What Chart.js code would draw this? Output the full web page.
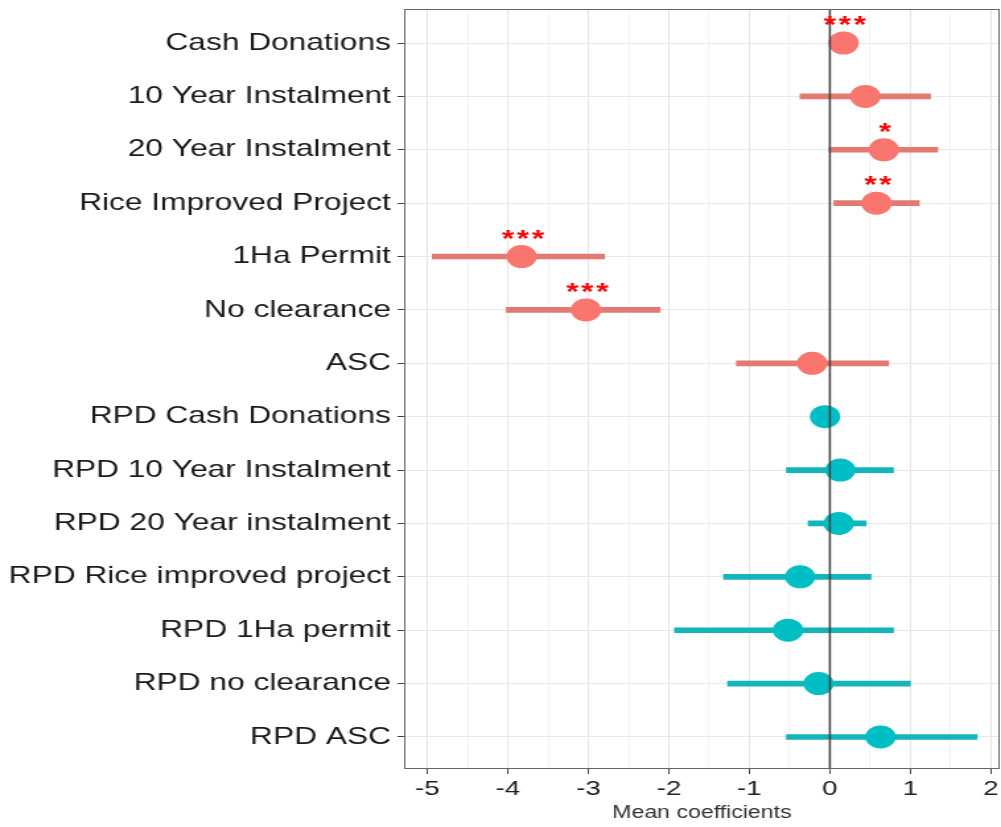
<!DOCTYPE html>
<html>
<head>
<meta charset="utf-8">
<title>Mean coefficients</title>
<script src="https://cdn.jsdelivr.net/npm/chart.js@4.4.1/dist/chart.umd.min.js"></script>
<style>
    html, body { margin: 0; padding: 0; background: #ffffff; overflow: hidden; }
    /* the original figure is stretched sideways, so the canvas is too */
    #myChart { transform: scaleX(1.3206); transform-origin: 0 0; }
</style>
</head>
<body>
<canvas id="myChart" width="758" height="827"></canvas>
<script>
// Attribute names (top to bottom)
const labelsArray = [
    'Cash Donations', '10 Year Instalment', '20 Year Instalment', 'Rice Improved Project',
    '1Ha Permit', 'No clearance', 'ASC',
    'RPD Cash Donations', 'RPD 10 Year Instalment', 'RPD 20 Year instalment',
    'RPD Rice improved project', 'RPD 1Ha permit', 'RPD no clearance', 'RPD ASC'
];

// Mean coefficients and their intervals
const meanArray = [0.17, 0.44, 0.67, 0.58, -3.83, -3.03, -0.22, -0.06, 0.13, 0.11, -0.37, -0.52, -0.14, 0.63];
const lowerArray = [0.17, -0.37, -0.01, 0.05, -4.94, -4.02, -1.16, -0.06, -0.54, -0.27, -1.32, -1.93, -1.27, -0.54];
const upperArray = [0.17, 1.25, 1.34, 1.11, -2.80, -2.11, 0.73, -0.06, 0.79, 0.45, 0.51, 0.79, 1.00, 1.83];

// Significance stars
const starsArray = ['***', '', '*', '**', '***', '***', '', '', '', '', '', '', '', ''];

// Which group each row belongs to
const groupArray = ['main', 'main', 'main', 'main', 'main', 'main', 'main',
    'rpd', 'rpd', 'rpd', 'rpd', 'rpd', 'rpd', 'rpd'];

// x axis tick labels
const xTicksArray = [-5, -4, -3, -2, -1, 0, 1, 2];

const pointColors = { main: '#F8766D', rpd: '#00BFC4' };
const barColors = { main: '#E27A72', rpd: '#13B5BB' };

//Building the datasets from the arrays above
const barData = labelsArray.map((name, i) => ({ x: [lowerArray[i], upperArray[i]], y: i + 1 }));
const pointData = labelsArray.map((name, i) => ({ x: meanArray[i], y: i + 1 }));

// half steps give the minor grid lines
const xGridValues = [];
for (let v = -5; v <= 2; v += 0.5) {
    xGridValues.push(v);
}

//This plugin draws the panel border, the zero line and the stars
const extrasPlugin = {
    id: 'extras',
    afterDatasetsDraw(chart) {
        const ctx = chart.ctx;
        const area = chart.chartArea;
        const xScale = chart.scales.x;
        const yScale = chart.scales.y;

        // vertical line at zero, drawn over the points
        const zeroX = xScale.getPixelForValue(0);
        ctx.save();
        ctx.strokeStyle = '#444444';
        ctx.lineWidth = 1.6;
        ctx.beginPath();
        ctx.moveTo(zeroX, area.top);
        ctx.lineTo(zeroX, area.bottom);
        ctx.stroke();

        // panel border
        ctx.strokeStyle = '#666666';
        ctx.lineWidth = 1;
        ctx.strokeRect(area.left + 0.5, area.top + 0.5, area.right - area.left - 1, area.bottom - area.top - 1);

        // stars above the points
        ctx.fillStyle = '#ff0000';
        ctx.font = 'bold 24px "Liberation Sans", Arial, sans-serif';
        ctx.letterSpacing = '2px';
        ctx.textAlign = 'center';
        ctx.textBaseline = 'alphabetic';
        starsArray.forEach((s, i) => {
            if (s === '') return;
            const px = xScale.getPixelForValue(meanArray[i]);
            const py = yScale.getPixelForValue(i + 1);
            ctx.fillText(s, px + 2, py - 10);
        });
        ctx.restore();
    }
};

function renderChart() {

    const ctx = document.getElementById('myChart');

    new Chart(ctx, {
        data: {
            datasets: [{
                // the mean points
                type: 'scatter',
                data: pointData,
                pointRadius: 11.5,
                pointHoverRadius: 11.5,
                pointBorderWidth: 0,
                backgroundColor: groupArray.map(g => pointColors[g]),
                order: 1
            }, {
                // the interval lines
                type: 'bar',
                data: barData,
                barThickness: 5,
                backgroundColor: groupArray.map(g => barColors[g]),
                borderWidth: 0,
                borderSkipped: false,
                order: 2
            }]
        },
        options: {
            indexAxis: 'y',
            responsive: false,
            animation: false,
            events: [],
            layout: {
                // no extra room for the big points, the panel goes to the edge
                autoPadding: false,
                padding: { top: 9, right: 1, left: 0, bottom: 0 }
            },
            plugins: {
                legend: { display: false },
                tooltip: { enabled: false }
            },
            scales: {
                x: {
                    type: 'linear',
                    min: -5.29,
                    max: 2.11,
                    afterBuildTicks: axis => {
                        axis.ticks = xGridValues.map(v => ({ value: v }));
                    },
                    afterFit: axis => {
                        axis.height = 58;
                        axis.paddingLeft = 0;
                        axis.paddingRight = 0;
                    },
                    grid: {
                        color: c => (c.tick && Number.isInteger(c.tick.value)) ? '#e4e4e4' : '#f3f3f3',
                        tickColor: c => (c.tick && Number.isInteger(c.tick.value)) ? '#444444' : 'rgba(0,0,0,0)',
                        tickLength: 5,
                        lineWidth: 1
                    },
                    border: { display: false },
                    ticks: {
                        autoSkip: false,
                        maxRotation: 0,
                        padding: 3,
                        color: '#222222',
                        font: { family: '"Liberation Sans", Arial, sans-serif', size: 21 },
                        callback: value => xTicksArray.includes(value) ? String(value) : ''
                    },
                    title: {
                        display: true,
                        text: 'Mean coefficients',
                        color: '#333333',
                        padding: { top: 0, bottom: 3 },
                        font: { family: '"Liberation Sans", Arial, sans-serif', size: 17.5 }
                    }
                },
                y: {
                    type: 'linear',
                    reverse: true,
                    offset: false,
                    min: 0.363,
                    max: 14.6,
                    afterBuildTicks: axis => {
                        axis.ticks = labelsArray.map((name, i) => ({ value: i + 1 }));
                    },
                    afterFit: axis => {
                        axis.width = 306;
                        axis.paddingTop = 0;
                        axis.paddingBottom = 0;
                    },
                    grid: {
                        offset: false,
                        color: '#e8e8e8',
                        tickColor: '#444444',
                        tickLength: 5,
                        lineWidth: 1
                    },
                    border: { display: false },
                    ticks: {
                        autoSkip: false,
                        padding: 5,
                        color: '#1a1a1a',
                        font: { family: '"Liberation Sans", Arial, sans-serif', size: 24 },
                        callback: value => labelsArray[value - 1] || ''
                    }
                }
            }
        },
        plugins: [extrasPlugin]
    });
}

renderChart();
</script>
</body>
</html>
